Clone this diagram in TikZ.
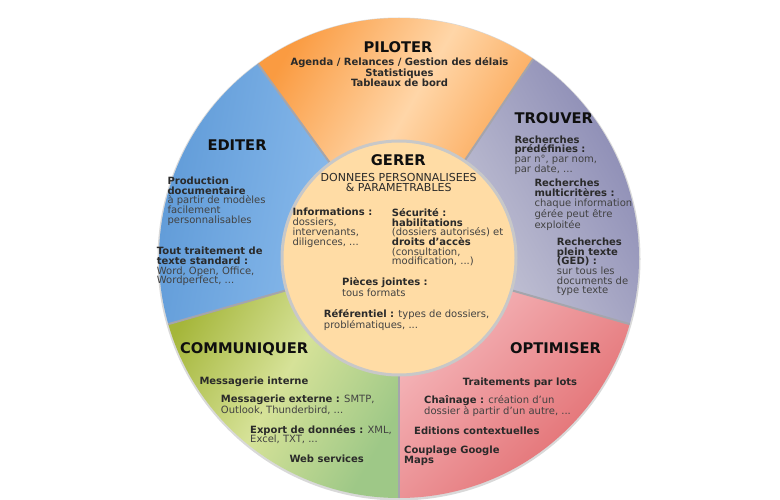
\documentclass[tikz,border=0pt]{standalone}
\usepackage{fontspec}
\setmainfont{DejaVu Sans}[Ligatures=ResetAll]
\usetikzlibrary{calc}
\definecolor{oD}{RGB}{250,155,65}
\definecolor{oL}{RGB}{255,214,168}
\definecolor{tD}{RGB}{135,135,178}
\definecolor{tL}{RGB}{208,208,220}
\definecolor{rD}{RGB}{225,105,108}
\definecolor{rL}{RGB}{247,190,194}
\definecolor{gO}{RGB}{165,182,58}
\definecolor{gL}{RGB}{214,226,152}
\definecolor{gG}{RGB}{158,200,135}
\definecolor{bD}{RGB}{92,152,214}
\definecolor{bL}{RGB}{150,196,242}
\definecolor{centerc}{RGB}{255,220,165}
\definecolor{rimc}{RGB}{200,200,200}
\definecolor{sepc}{RGB}{165,165,172}
\definecolor{titlec}{RGB}{15,15,15}
\definecolor{boldc}{RGB}{42,42,42}
\definecolor{bodyc}{RGB}{66,66,66}
\newcommand\hb[1]{\textcolor{boldc}{\bfseries #1}}
% note: multi-line nodes are anchored at the baseline of their LAST line
\tikzset{
  ttl/.style={font=\fontsize{14.7}{16}\selectfont\bfseries, text=titlec, inner sep=0pt, anchor=base west},
  txt/.style={font=\fontsize{10}{9.7}\selectfont, text=bodyc, inner sep=0pt, anchor=base west, align=left},
  sep/.style={draw=sepc, line width=2pt},
}
\begin{document}
\begin{tikzpicture}[x=1pt,y=-1pt]
\useasboundingbox (0,0) rectangle (780,500);
\coordinate (C) at (399,258);
% shadow
\draw[gray!30, line width=3pt] ([shift={(0,1)}]C) circle[radius=240];
% sectors (angles negated because y axis points down)
\shade[left color=oD, right color=oD, middle color=oL, shading angle=60]
  (C) ++(-56:240) arc[start angle=-56, end angle=-126, radius=240]
  -- ([shift={(-126:116)}]C) arc[start angle=-126, end angle=-56, radius=116] -- cycle;
\shade[left color=bD, right color=bL, shading angle=80]
  (C) ++(-126:240) arc[start angle=-126, end angle=-196, radius=240]
  -- ([shift={(-196:116)}]C) arc[start angle=-196, end angle=-126, radius=116] -- cycle;
\shade[left color=gO, right color=gG, middle color=gL, shading angle=60]
  (C) ++(-196:240) arc[start angle=-196, end angle=-270, radius=240]
  -- ([shift={(-270:116)}]C) arc[start angle=-270, end angle=-196, radius=116] -- cycle;
\shade[left color=rL, right color=rD, shading angle=45]
  (C) ++(-270:240) arc[start angle=-270, end angle=-344, radius=240]
  -- ([shift={(-344:116)}]C) arc[start angle=-344, end angle=-270, radius=116] -- cycle;
\shade[left color=tL, right color=tD, shading angle=120]
  (C) ++(16:240) arc[start angle=16, end angle=-56, radius=240]
  -- ([shift={(-56:116)}]C) arc[start angle=-56, end angle=16, radius=116] -- cycle;
% separators
\foreach \a in {-56,-126,-196,-270,-344}
  \draw[sep] ([shift={(\a:117)}]C) -- ([shift={(\a:240)}]C);
% centre
\draw[fill=centerc, draw=rimc, line width=3pt] (C) circle[radius=117];

% PILOTER
\node[ttl, anchor=base] (tp) at (398,53) {PILOTER};
\node[txt, anchor=base, align=center, font=\fontsize{10}{9.2}\selectfont] (p1) at (399.5,86.7)
  {\hb{Agenda / Relances / Gestion des délais}\\\hb{Statistiques}\\\hb{Tableaux de bord}};
% TROUVER
\node[ttl] (tt) at (514.3,123.5) {TROUVER};
\node[txt] (t1) at (514.3,172.3) {\hb{Recherches}\\\hb{prédéfinies :}\\par n°, par nom,\\par date, ...};
\node[txt] (t2) at (534.3,228.3) {\hb{Recherches}\\\hb{multicritères :}\\chaque information\\gérée peut être\\exploitée};
\node[txt] (t3) at (556.7,294) {\hb{Recherches}\\\hb{plein texte}\\\hb{(GED) :}\\sur tous les\\documents de\\type texte};
% EDITER
\node[ttl] (te) at (207.3,150.7) {EDITER};
\node[txt] (e1) at (167.3,223.3) {\hb{Production}\\\hb{documentaire}\\à partir de modèles\\facilement\\personnalisables};
\node[txt] (e2) at (156.7,283.7) {\hb{Tout traitement de}\\\hb{texte standard :}\\Word, Open, Office,\\Wordperfect, ...};
% GERER
\node[ttl, anchor=base] (tg) at (398.3,165.7) {GERER};
\node[txt, anchor=base, align=center, font=\fontsize{11}{10}\selectfont, text=boldc] (gs) at (398.7,191.7)
  {DONNEES PERSONNALISEES\\\& PARAMETRABLES};
\node[txt] (g1) at (292.3,245) {\hb{Informations :}\\dossiers,\\intervenants,\\diligences, ...};
\node[txt] (g2) at (391.7,265) {\hb{Sécurité :}\\\hb{habilitations}\\(dossiers autorisés) et\\\hb{droits d'accès}\\(consultation,\\modification, ...)};
\node[txt] (g3) at (342,296.7) {\hb{Pièces jointes :}\\tous formats};
\node[txt] (g4) at (323.7,328.7) {\hb{Référentiel :} types de dossiers,\\problématiques, ...};
% COMMUNIQUER
\node[ttl] (tc) at (180,353.3) {COMMUNIQUER};
\node[txt] (c1) at (199.3,384.3) {\hb{Messagerie interne}};
\node[txt] (c2) at (220.7,413.3) {\hb{Messagerie externe :} SMTP,\\Outlook, Thunderbird, ...};
\node[txt] (c3) at (250,442.7) {\hb{Export de données :} XML,\\Excel, TXT, ...};
\node[txt] (c4) at (289.3,462.3) {\hb{Web services}};
% OPTIMISER
\node[ttl] (to) at (510,353.3) {OPTIMISER};
\node[txt] (o1) at (462.7,385) {\hb{Traitements par lots}};
\node[txt] (o2) at (424,414.3) {\hb{Chaînage :} création d'un\\dossier à partir d'un autre, ...};
\node[txt] (o3) at (414,434) {\hb{Editions contextuelles}};
\node[txt] (o4) at (404,463.3) {\hb{Couplage Google}\\\hb{Maps}};
\end{tikzpicture}
\end{document}
